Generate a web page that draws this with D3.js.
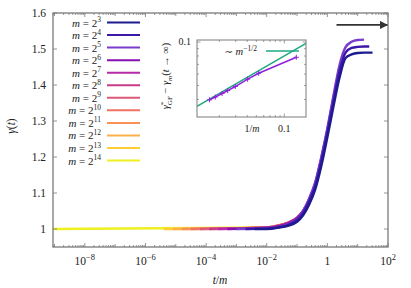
<!DOCTYPE html>
<html>
<head>
<meta charset="utf-8">
<script src="https://cdn.jsdelivr.net/npm/d3@7"></script>
<style>
  html, body { margin: 0; padding: 0; background: #fff; }
  svg text { font-family: "Liberation Serif", "DejaVu Serif", serif; fill: #222; }
</style>
</head>
<body>
<svg id="chart" width="411" height="288"></svg>
<script>
// exponents k of m = 2^k
const mExp = [3, 4, 5, 6, 7, 8, 9, 10, 11, 12, 13, 14];
const seriesColors = ["#1d1b8e", "#3c18aa", "#7a3ccc", "#8810b2", "#b42aa8", "#c63c88",
  "#dc5a78", "#ef7262", "#f99058", "#fcb04a", "#fdcf34", "#eef020"];

// first t/m of every run (log10), gamma = 1 there
const startLog = [-2.4, -2.7, -3.0, -3.3, -3.6, -3.9, -4.2, -4.5, -4.8, -5.1, -5.4, -9.05];

// rise region, log10(t/m) grid
const riseLog = [-2.0, -1.6, -1.3, -1.0, -0.8, -0.6, -0.4, -0.2, 0, 0.2, 0.4, 0.6, 0.8, 1.0, 1.21, 1.38, 1.49];
const riseGamma = [
  [1.000, 1.004, 1.009, 1.020, 1.038, 1.068, 1.110, 1.175, 1.255, 1.340, 1.420, 1.475, 1.485, 1.489, 1.490, 1.490, 1.490],
  [1.001, 1.005, 1.011, 1.025, 1.045, 1.078, 1.120, 1.188, 1.268, 1.355, 1.438, 1.490, 1.503, 1.506, 1.507, 1.507, null],
  [1.002, 1.006, 1.013, 1.028, 1.050, 1.085, 1.130, 1.200, 1.280, 1.370, 1.455, 1.505, 1.520, 1.525, 1.526, null, null],
  [1.003, 1.008, 1.015, 1.030, 1.050, 1.083, 1.127, 1.196, 1.275, 1.364, 1.448, null, null, null, null, null, null],
  [1.003, 1.008, 1.016, 1.031, 1.050, 1.082, 1.125, 1.193, 1.272, 1.360, null, null, null, null, null, null, null],
  [1.004, 1.009, 1.017, 1.031, 1.049, 1.081, 1.124, 1.191, 1.270, null, null, null, null, null, null, null, null],
  [1.004, 1.009, 1.017, 1.031, 1.049, 1.080, 1.123, 1.190, null, null, null, null, null, null, null, null, null],
  [1.004, 1.010, 1.017, 1.031, 1.049, 1.080, 1.122, null, null, null, null, null, null, null, null, null, null],
  [1.004, 1.010, 1.017, 1.031, 1.049, 1.080, null, null, null, null, null, null, null, null, null, null, null],
  [1.004, 1.010, 1.017, 1.031, 1.049, null, null, null, null, null, null, null, null, null, null, null, null],
  [1.004, 1.010, 1.017, 1.031, null, null, null, null, null, null, null, null, null, null, null, null, null],
  [1.004, 1.010, 1.017, null, null, null, null, null, null, null, null, null, null, null, null, null, null]
];

const yTicks = [1, 1.1, 1.2, 1.3, 1.4, 1.5, 1.6];
const xLabelExp = [-8, -6, -4, -2, 0, 2];

// arrow t -> infinity
const arrowFrom = 2.0, arrowTo = 100, arrowGamma = 1.567;

// inset: gamma*_GF - gamma_m(t->inf) vs 1/m
const insetInvM = [0.0157, 0.0181, 0.0214, 0.0246, 0.0297, 0.0403, 0.0530, 0.1345];
const insetDiff = [0.0398, 0.0416, 0.0440, 0.0461, 0.0492, 0.0553, 0.0608, 0.0784];
const fitInvM = [0.0115, 0.171];
const fitDiff = [0.0358, 0.0980];

const svg = d3.select("#chart");
const W = { l: 53, r: 388, t: 13, b: 247 };

const x = d3.scaleLog().domain([Math.pow(10, -9.05), 100]).range([W.l, W.r]);
const y = d3.scaleLinear().domain([0.95, 1.6]).range([W.b, W.t]);

svg.append("defs").append("clipPath").attr("id", "clipMain")
  .append("rect").attr("x", W.l).attr("y", W.t).attr("width", W.r - W.l).attr("height", W.b - W.t);

const frameColor = "#7a7a7a";

// ---- curves (largest m first, smallest m on top)
const line = d3.line().x(d => x(d[0])).y(d => y(d[1])).curve(d3.curveMonotoneX);
const curveG = svg.append("g").attr("clip-path", "url(#clipMain)");
for (let i = mExp.length - 1; i >= 0; i--) {
  const pts = [[Math.pow(10, startLog[i]), 1]];
  riseLog.forEach((e, j) => {
    const g = riseGamma[i][j];
    if (g !== null && e > startLog[i]) pts.push([Math.pow(10, e), g]);
  });
  curveG.append("path").datum(pts)
    .attr("d", line)
    .attr("fill", "none")
    .attr("stroke", seriesColors[i])
    .attr("stroke-width", 2.4);
}

// ---- arrow
const defs = svg.select("defs");
defs.append("marker").attr("id", "arrowHead")
  .attr("viewBox", "0 0 10 10").attr("refX", 10).attr("refY", 5)
  .attr("markerWidth", 4.5).attr("markerHeight", 4.5).attr("orient", "auto")
  .append("path").attr("d", "M0,0 L10,5 L0,10 z").attr("fill", "#333");
svg.append("line")
  .attr("x1", x(arrowFrom)).attr("x2", x(arrowTo))
  .attr("y1", y(arrowGamma)).attr("y2", y(arrowGamma))
  .attr("stroke", "#333").attr("stroke-width", 1.8)
  .attr("marker-end", "url(#arrowHead)");

// ---- ticks main
const tickG = svg.append("g").attr("stroke", frameColor).attr("stroke-width", 0.8);
yTicks.forEach(v => {
  tickG.append("line").attr("x1", W.l).attr("x2", W.l + 4).attr("y1", y(v)).attr("y2", y(v));
  tickG.append("line").attr("x1", W.r).attr("x2", W.r - 4).attr("y1", y(v)).attr("y2", y(v));
});
const minorX = [];
for (let e = -10; e <= 2; e++) {
  for (let k = 1; k <= 9; k++) {
    const v = k * Math.pow(10, e);
    if (v < x.domain()[0] || v > x.domain()[1]) continue;
    const major = k === 1 && e % 2 === 0;
    const len = major ? 4 : (k === 1 ? 3 : 2);
    minorX.push([v, len]);
  }
}
minorX.forEach(([v, len]) => {
  tickG.append("line").attr("x1", x(v)).attr("x2", x(v)).attr("y1", W.b).attr("y2", W.b - len);
  tickG.append("line").attr("x1", x(v)).attr("x2", x(v)).attr("y1", W.t).attr("y2", W.t + len);
});

// frame
svg.append("rect").attr("x", W.l).attr("y", W.t).attr("width", W.r - W.l).attr("height", W.b - W.t)
  .attr("fill", "none").attr("stroke", frameColor).attr("stroke-width", 1.3);

// tick labels
svg.append("g").selectAll("text").data(yTicks).join("text")
  .attr("x", W.l - 7).attr("y", d => y(d) + 4)
  .attr("text-anchor", "end").attr("font-size", 11.5)
  .text(d => d === 1 ? "1" : d3.format(".1f")(d));

const xl = svg.append("g").selectAll("text").data(xLabelExp).join("text")
  .attr("x", d => x(Math.pow(10, d))).attr("y", 265)
  .attr("text-anchor", "middle").attr("font-size", 11.5);
xl.each(function (d) {
  const t = d3.select(this);
  if (d === 0) { t.text("1"); return; }
  t.append("tspan").text("10");
  t.append("tspan").attr("dy", -5).attr("font-size", 8.5).text(d < 0 ? "\u2212" + (-d) : d);
});

// axis titles
const xt = svg.append("text").attr("x", 220).attr("y", 284).attr("text-anchor", "middle").attr("font-size", 11.5);
xt.append("tspan").attr("font-style", "italic").text("t");
xt.append("tspan").text("/");
xt.append("tspan").attr("font-style", "italic").text("m");

const yt = svg.append("text").attr("transform", "translate(15,126) rotate(-90)")
  .attr("text-anchor", "middle").attr("font-size", 11.5);
yt.append("tspan").attr("font-style", "italic").text("\u03b3");
yt.append("tspan").text("(");
yt.append("tspan").attr("font-style", "italic").text("t");
yt.append("tspan").text(")");

// ---- legend
const legG = svg.append("g");
mExp.forEach((k, i) => {
  const ly = 22.5 + i * 12.55;
  const t = legG.append("text").attr("x", 101).attr("y", ly + 4)
    .attr("text-anchor", "end").attr("font-size", 11);
  t.append("tspan").attr("font-style", "italic").text("m");
  t.append("tspan").text(" = 2");
  t.append("tspan").attr("dy", -4.5).attr("font-size", 7.5).text(k);
  legG.append("line").attr("x1", 107).attr("x2", 140).attr("y1", ly).attr("y2", ly)
    .attr("stroke", seriesColors[i]).attr("stroke-width", 2);
});

// ---- inset
const I = { l: 197, r: 306, t: 40, b: 117 };
const ix = d3.scaleLog().domain([Math.pow(10, -1.939), Math.pow(10, -0.767)]).range([I.l, I.r]);
const iy = d3.scaleLog().domain([Math.pow(10, -1.519), Math.pow(10, -0.986)]).range([I.b, I.t]);

svg.append("rect").attr("x", I.l).attr("y", I.t).attr("width", I.r - I.l).attr("height", I.b - I.t)
  .attr("fill", "#fff");
defs.append("clipPath").attr("id", "clipInset")
  .append("rect").attr("x", I.l).attr("y", I.t).attr("width", I.r - I.l).attr("height", I.b - I.t);

const inG = svg.append("g").attr("clip-path", "url(#clipInset)");
const fitPts = fitInvM.map((v, i) => [v, fitDiff[i]]);
inG.append("path").datum(fitPts)
  .attr("d", d3.line().x(d => ix(d[0])).y(d => iy(d[1])))
  .attr("fill", "none").attr("stroke", "#1fa884").attr("stroke-width", 1.5);
const dataPts = insetInvM.map((v, i) => [v, insetDiff[i]]);
inG.append("path").datum(dataPts)
  .attr("d", d3.line().x(d => ix(d[0])).y(d => iy(d[1])))
  .attr("fill", "none").attr("stroke", "#9020dc").attr("stroke-width", 1.5);
inG.selectAll(".pm").data(dataPts).join("path").attr("class", "pm")
  .attr("d", d => {
    const px = ix(d[0]), py = iy(d[1]);
    return `M${px - 2.5},${py}H${px + 2.5}M${px},${py - 2.5}V${py + 2.5}`;
  })
  .attr("stroke", "#9020dc").attr("stroke-width", 1);

// inset ticks
const itG = svg.append("g").attr("stroke", frameColor).attr("stroke-width", 0.7);
[0.02, 0.03, 0.04, 0.05, 0.06, 0.07, 0.08, 0.09, 0.1].forEach(v => {
  if (v < ix.domain()[0] || v > ix.domain()[1]) return;
  const len = v === 0.1 ? 3.5 : 2;
  itG.append("line").attr("x1", ix(v)).attr("x2", ix(v)).attr("y1", I.b).attr("y2", I.b - len);
  itG.append("line").attr("x1", ix(v)).attr("x2", ix(v)).attr("y1", I.t).attr("y2", I.t + len);
});
[0.04, 0.05, 0.06, 0.07, 0.08, 0.09, 0.1].forEach(v => {
  const len = v === 0.1 ? 3.5 : 2;
  itG.append("line").attr("x1", I.l).attr("x2", I.l + len).attr("y1", iy(v)).attr("y2", iy(v));
  itG.append("line").attr("x1", I.r).attr("x2", I.r - len).attr("y1", iy(v)).attr("y2", iy(v));
});
svg.append("rect").attr("x", I.l).attr("y", I.t).attr("width", I.r - I.l).attr("height", I.b - I.t)
  .attr("fill", "none").attr("stroke", frameColor).attr("stroke-width", 1);

// inset labels
svg.append("text").attr("x", I.l - 6).attr("y", iy(0.1) + 3).attr("text-anchor", "end")
  .attr("font-size", 10).text("0.1");
svg.append("text").attr("x", ix(0.1)).attr("y", 132).attr("text-anchor", "middle")
  .attr("font-size", 10).text("0.1");
const ixt = svg.append("text").attr("x", 252).attr("y", 132).attr("text-anchor", "middle").attr("font-size", 10);
ixt.append("tspan").text("1/");
ixt.append("tspan").attr("font-style", "italic").text("m");

const iyt = svg.append("text").attr("transform", "translate(169,76) rotate(-90)")
  .attr("text-anchor", "middle").attr("font-size", 10.5);
iyt.append("tspan").attr("font-style", "italic").text("\u03b3");
iyt.append("tspan").attr("dy", -4).attr("font-size", 7).text("*");
iyt.append("tspan").attr("dx", -3.5).attr("dy", 6.5).attr("font-size", 7).text("GF");
iyt.append("tspan").attr("dy", -2.5).text(" \u2212 ");
iyt.append("tspan").attr("font-style", "italic").text("\u03b3");
iyt.append("tspan").attr("dy", 2.5).attr("font-size", 7).attr("font-style", "italic").text("m");
iyt.append("tspan").attr("dy", -2.5).text("(");
iyt.append("tspan").attr("font-style", "italic").text("t");
iyt.append("tspan").text(" \u2192 \u221e)");

// inset key
const key = svg.append("text").attr("x", 257).attr("y", 55).attr("text-anchor", "end").attr("font-size", 10.5);
key.append("tspan").text("\u223c ");
key.append("tspan").attr("font-style", "italic").text("m");
key.append("tspan").attr("dy", -4.5).attr("font-size", 7.5).text("\u22121/2");
svg.append("line").attr("x1", 266).attr("x2", 299).attr("y1", 51).attr("y2", 51)
  .attr("stroke", "#1fa884").attr("stroke-width", 1.5);
</script>
</body>
</html>
